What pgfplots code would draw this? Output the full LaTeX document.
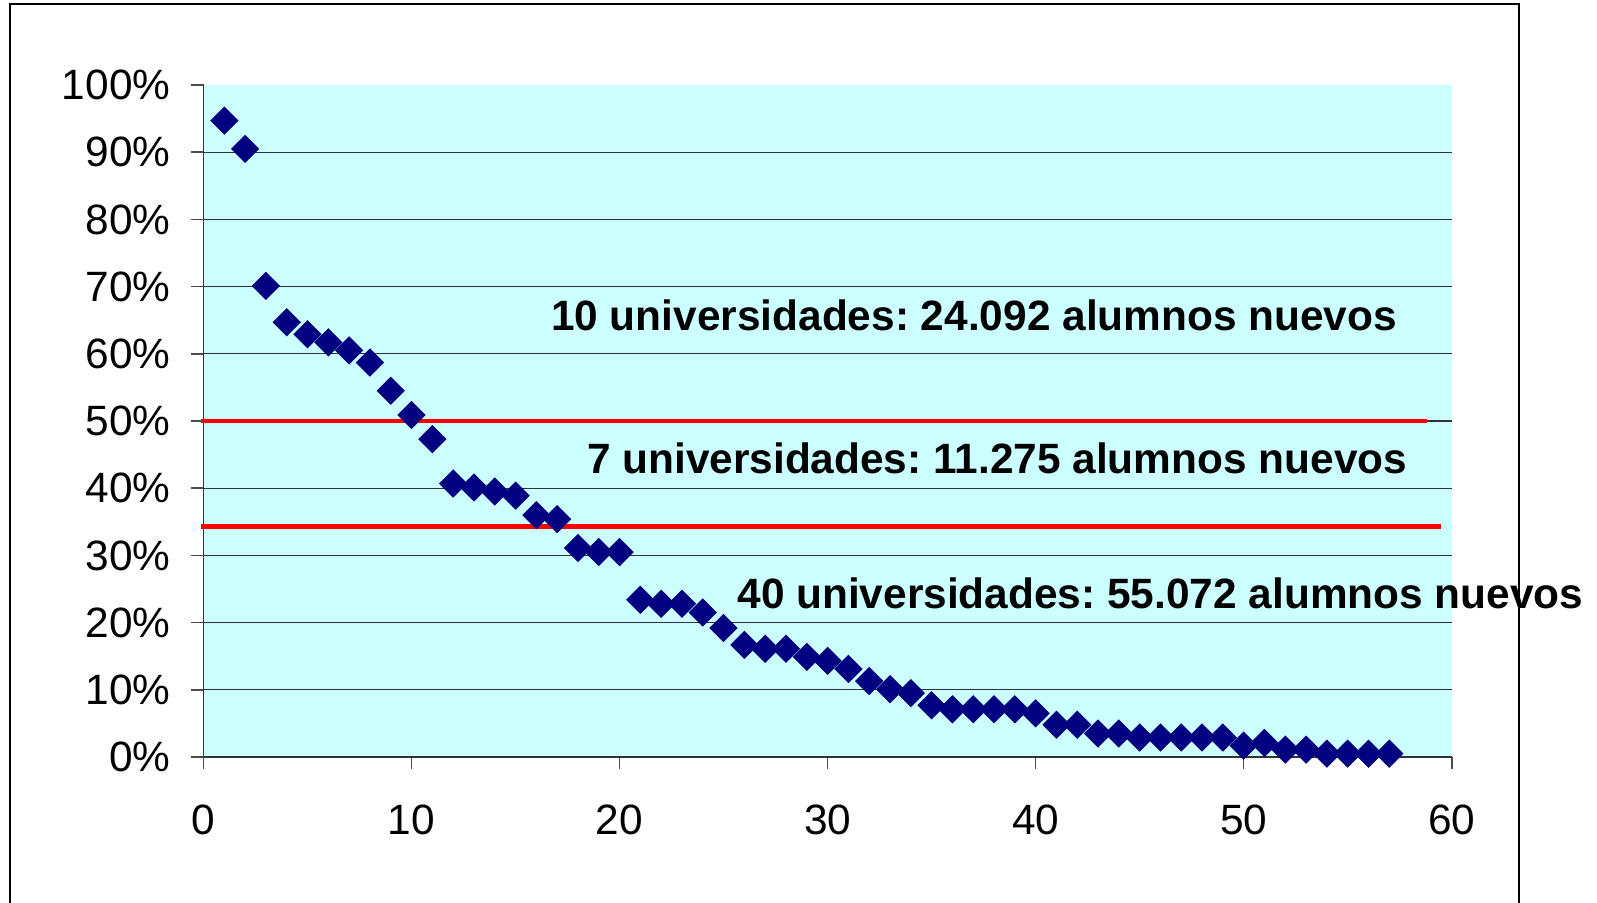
\documentclass[border=0pt]{standalone}
\usepackage{pgfplots}
\pgfplotsset{compat=1.18}
\usepackage{fontspec}
\setmainfont{Liberation Sans}
\definecolor{bgcyan}{HTML}{CCFFFF}
\definecolor{navyb}{HTML}{000080}
\frenchspacing
\begin{document}
\begin{tikzpicture}
\useasboundingbox (0,0) rectangle (399.25pt,-225.5pt);
\clip (0,0) rectangle (399.25pt,-225.5pt);
\draw[black, line width=0.45pt] (2.5pt,-1pt) rectangle (379.75pt,-260pt);
\begin{axis}[
  at={(50.875pt,-189.25pt)}, anchor=south west,
  scale only axis, width=312.05pt, height=168pt,
  xmin=0, xmax=60, ymin=0, ymax=100,
  axis x line*=bottom, axis y line*=left,
  axis line style={black!80, line width=0.4pt},
  axis background/.style={fill=bgcyan},
  xtick={0,10,...,60}, ytick={0,10,...,100},
  tick align=outside, major tick length=3pt,
  tick style={black!70, line width=0.4pt},
  extra y ticks={10,20,...,90},
  extra y tick labels={},
  extra y tick style={ymajorgrids=true, major tick length=0pt},
  grid style={black!80, line width=0.3pt},
  /pgf/number format/assume math mode=true,
  yticklabel={\pgfmathprintnumber{\tick}\%},
  tick label style={font=\fontsize{10.6}{12.7}\selectfont},
  yticklabel style={anchor=east, inner sep=0pt, xshift=-5.1pt},
  xticklabel style={anchor=north, inner sep=0pt, yshift=-8.75pt},
  clip=false,
]
\addplot[red, line width=1pt] coordinates {(-0.1,50.05) (58.8,50.05)};
\addplot[red, line width=1.35pt] coordinates {(-0.1,34.3) (59.5,34.3)};
\addplot[only marks, mark=square*, mark size=2.3pt,
  mark options={rotate=45, fill=navyb, draw=navyb}] coordinates {
(1,94.7) (2,90.5) (3,70.1) (4,64.7) (5,62.9) (6,61.7) (7,60.5) (8,58.7)
(9,54.5) (10,50.9) (11,47.3) (12,40.7) (13,40.1) (14,39.5) (15,38.9)
(16,36.0) (17,35.4) (18,31.1) (19,30.5) (20,30.5) (21,23.4) (22,22.8)
(23,22.8) (24,21.5) (25,19.2) (26,16.7) (27,16.1) (28,16.1) (29,14.9)
(30,14.3) (31,13.1) (32,11.3) (33,10.1) (34,9.5) (35,7.7) (36,7.1)
(37,7.1) (38,7.1) (39,7.1) (40,6.5) (41,4.8) (42,4.8) (43,3.5) (44,3.5)
(45,2.9) (46,2.9) (47,2.9) (48,2.9) (49,2.9) (50,1.7) (51,2.1) (52,1.1)
(53,1.1) (54,0.5) (55,0.5) (56,0.5) (57,0.5)
};
\node[font=\fontsize{10.6}{12.7}\selectfont\bfseries, inner sep=0pt] at (axis cs:37.04,65.7) {10 universidades: 24.092 alumnos nuevos};
\node[font=\fontsize{10.6}{12.7}\selectfont\bfseries, inner sep=0pt] at (axis cs:38.15,44.4) {7 universidades: 11.275 alumnos nuevos};
\node[font=\fontsize{10.6}{12.7}\selectfont\bfseries, inner sep=0pt] at (axis cs:46.0,24.3) {40 universidades: 55.072 alumnos nuevos};
\end{axis}
\end{tikzpicture}
\end{document}
